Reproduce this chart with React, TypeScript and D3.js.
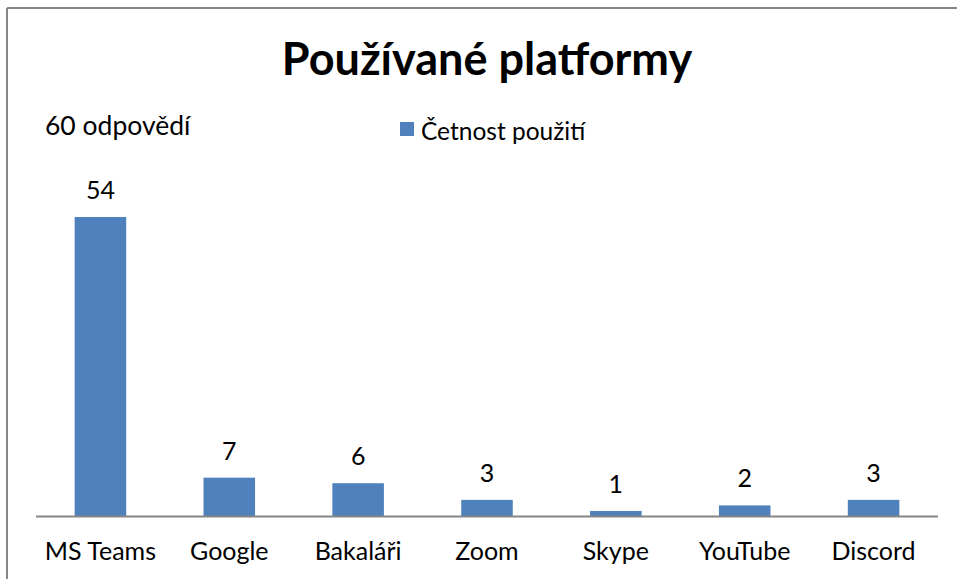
import React from "react";
import * as d3 from "d3";

const categories = ["MS Teams", "Google", "Bakaláři", "Zoom", "Skype", "YouTube", "Discord"];
const values = [54, 7, 6, 3, 1, 2, 3];
const title = "Používané platformy";
const note = "60 odpovědí";
const seriesName = "Četnost použití";

const W = 957;
const H = 579;
const FONT = "Lato, 'Open Sans', sans-serif";
const BLUE = "#4F81BD";

export default function App() {
  const x = d3.scaleBand<string>().domain(categories).range([36, 938]).paddingInner(0.6).paddingOuter(0.3);
  const y = d3.scaleLinear().domain([0, 60]).range([516.5, 183.7]);
  return (
    <svg width={W} height={H} style={{ position: "fixed", left: 0, top: 0, background: "#fff" }} fontFamily={FONT}>
      <rect x={0} y={0} width={W} height={H} fill="#fff" />
      <line x1={7} y1={8} x2={W} y2={8} stroke="#868686" strokeWidth={2} />
      <line x1={7} y1={8} x2={7} y2={H} stroke="#868686" strokeWidth={2} />
      <text x={487} y={75} textAnchor="middle" fontSize={45} fontWeight={700} fill="#000">{title}</text>
      <text x={45} y={135} fontSize={26.5} fill="#000">{note}</text>
      <rect x={400} y={122} width={14} height={14} fill={BLUE} />
      <text x={421} y={140} fontSize={24.5} fill="#000">{seriesName}</text>
      {categories.map((c, i) => {
        const bx = x(c)!;
        const bw = x.bandwidth();
        const top = y(values[i]);
        return (
          <g key={c}>
            <rect x={bx} y={top} width={bw} height={y(0) - top} fill={BLUE} />
            <text x={bx + bw / 2} y={top - 18} textAnchor="middle" fontSize={25} fill="#000">{values[i]}</text>
            <text x={bx + bw / 2} y={560} textAnchor="middle" fontSize={25} fill="#000">{c}</text>
          </g>
        );
      })}
      <line x1={36} y1={y(0)} x2={938} y2={y(0)} stroke="#868686" strokeWidth={2} />
    </svg>
  );
}
